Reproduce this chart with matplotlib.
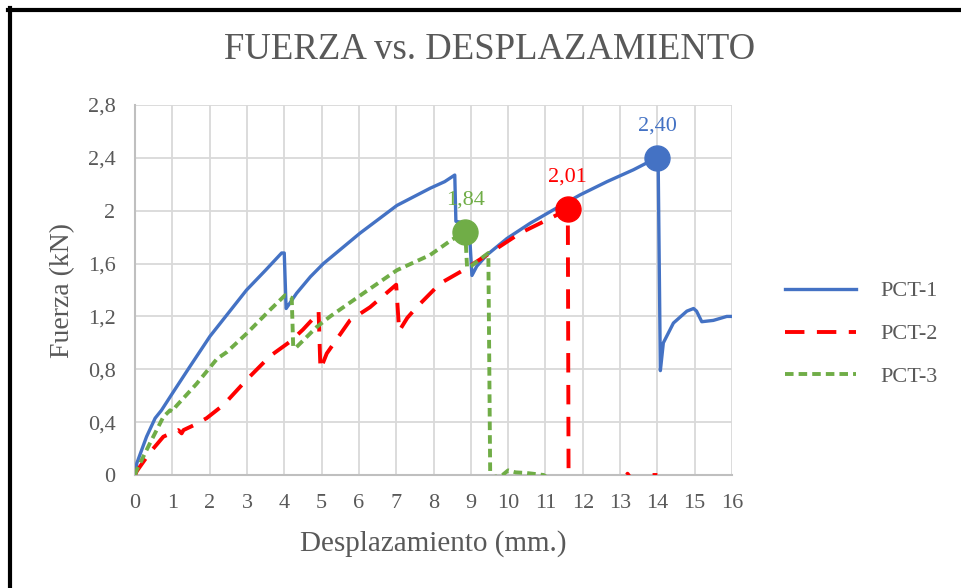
import matplotlib
matplotlib.use("Agg")
import matplotlib.pyplot as plt
from matplotlib.lines import Line2D

# ---- data ----
x_pct1 = [0, 0.05, 0.31, 0.54, 0.71, 1.03, 1.47, 2.01, 2.99, 3.5, 3.93, 4.0, 4.05, 4.1,
          4.33, 4.7, 5.05, 6.03, 7.02, 7.91, 8.3, 8.57, 8.6, 8.95, 9.03, 9.16, 9.43,
          9.97, 10.59, 11.21, 11.93, 12.65, 13.36, 13.98, 14.02, 14.08, 14.16, 14.43,
          14.79, 14.97, 15.05, 15.19, 15.5, 15.86, 16.0]
y_pct1 = [0, 0.09, 0.29, 0.43, 0.49, 0.63, 0.82, 1.05, 1.40, 1.55, 1.68, 1.68, 1.26, 1.28,
          1.375, 1.50, 1.60, 1.83, 2.04, 2.17, 2.22, 2.27, 1.92, 1.90, 1.51, 1.58, 1.665,
          1.79, 1.905, 2.006, 2.12, 2.22, 2.31, 2.40, 2.40, 0.79, 1.00, 1.15,
          1.24, 1.26, 1.24, 1.16, 1.17, 1.20, 1.20]

x_pct2 = [0, 0.05, 0.4, 0.76, 1.16, 1.25, 1.3, 1.6, 1.92, 2.37, 2.99, 3.62, 4.16, 4.5,
          4.83, 4.92, 4.97, 5.14, 5.76, 6.3, 7.0, 7.08, 7.3, 7.55, 8.18, 8.8, 9.43,
          10.32, 11.04, 11.6, 11.62, 11.7, 13.1, 13.2, 13.35, 13.65, 13.75, 14.0]
y_pct2 = [0, 0.03, 0.17, 0.29, 0.34, 0.315, 0.34, 0.38, 0.43, 0.53, 0.72, 0.90, 1.01, 1.10,
          1.20, 1.24, 0.80, 0.92, 1.17, 1.27, 1.44, 1.09, 1.19, 1.27, 1.45, 1.55, 1.665,
          1.83, 1.93, 2.01, -0.05, -0.05, -0.05, 0.01, -0.05, -0.02, 0.0, 0.0]

x_pct3 = [0, 0.05, 0.4, 0.76, 0.94, 1.0, 1.1, 1.65, 2.2, 2.46, 2.99, 3.62, 4.02, 4.2,
          4.24, 4.3, 4.87, 5.23, 6.12, 7.02, 7.91, 8.49, 8.85, 8.9, 9.0, 9.47, 9.52,
          9.55, 9.85, 10.0, 10.2, 10.5, 10.95, 11.1, 12.0]
y_pct3 = [0, 0.04, 0.24, 0.44, 0.49, 0.48, 0.52, 0.69, 0.88, 0.93, 1.07, 1.25, 1.36, 1.34,
          0.97, 0.96, 1.12, 1.20, 1.375, 1.55, 1.665, 1.78, 1.84, 1.57, 1.58, 1.68, -0.02,
          -0.02, 0.0, 0.035, 0.02, 0.015, 0.0, -0.03, -0.03]

peak_x = [14.0, 11.6, 8.85]
peak_y = [2.40, 2.01, 1.84]
peak_labels = ["2,40", "2,01", "1,84"]

series_names = ["PCT-1", "PCT-2", "PCT-3"]
colors = ["#4472C4", "#FF0000", "#70AD47"]

x_ticks = list(range(0, 17))
y_ticks = [0, 0.4, 0.8, 1.2, 1.6, 2.0, 2.4, 2.8]
y_tick_labels = ["0", "0,4", "0,8", "1,2", "1,6", "2", "2,4", "2,8"]

# ---- figure ----
plt.rcParams['font.family'] = ['Liberation Serif', 'DejaVu Serif']
text_color = "#595959"

fig = plt.figure(figsize=(9.61, 5.88), dpi=100)
ax = fig.add_axes([135/961, 113/588, 597/961, 370/588])

ax.plot(x_pct1, y_pct1, color=colors[0], lw=2.4, solid_joinstyle='round',
        label=series_names[0], zorder=3)
ax.plot(x_pct2, y_pct2, color=colors[1], lw=2.8, dashes=(5, 3.2),
        label=series_names[1], zorder=3)
ax.plot(x_pct3, y_pct3, color=colors[2], lw=2.8, dashes=(2.2, 1.3),
        label=series_names[2], zorder=3)

for px, py, lab, c in zip(peak_x, peak_y, peak_labels, colors):
    ax.plot([px], [py], 'o', color=c, markersize=18, zorder=4, clip_on=False)
    ax.annotate(lab, (px, py), xytext=(0, 23), textcoords='offset points',
                ha='center', va='center', color=c, fontsize=16, zorder=5)

ax.set_xlim(0, 16)
ax.set_ylim(0, 2.8)
ax.set_xticks(x_ticks)
ax.set_yticks(y_ticks)
ax.set_yticklabels(y_tick_labels)
ax.tick_params(length=0, labelsize=16, colors=text_color, pad=14)
ax.grid(True, color="#d9d9d9", lw=1.3, zorder=0)
ax.set_axisbelow(True)
for s in ['top', 'right']:
    ax.spines[s].set_visible(False)
for s in ['left', 'bottom']:
    ax.spines[s].set_color("#bfbfbf")
    ax.spines[s].set_linewidth(1.5)

ax.set_xlabel("Desplazamiento (mm.)", fontsize=21, color=text_color, labelpad=12)
ax.set_ylabel("Fuerza (kN)", fontsize=20, color=text_color, labelpad=9)

fig.text(490/961, 1 - 50/588, "FUERZA vs. DESPLAZAMIENTO", ha='center', va='center',
         fontsize=26.5, color=text_color)

leg = fig.legend(loc='center left', bbox_to_anchor=(765/961, 1 - 334/588),
                 frameon=False, fontsize=16, handlelength=3.2, handletextpad=1.1,
                 labelspacing=1.0)
for t in leg.get_texts():
    t.set_color(text_color)

# outer frame (top and left edges)
fig.add_artist(Line2D([8/961, 1], [1 - 9.5/588, 1 - 9.5/588], color='black', lw=3,
                      transform=fig.transFigure))
fig.add_artist(Line2D([10/961, 10/961], [0, 1 - 8/588], color='black', lw=3,
                      transform=fig.transFigure))

fig.savefig("out.png", dpi=100)
